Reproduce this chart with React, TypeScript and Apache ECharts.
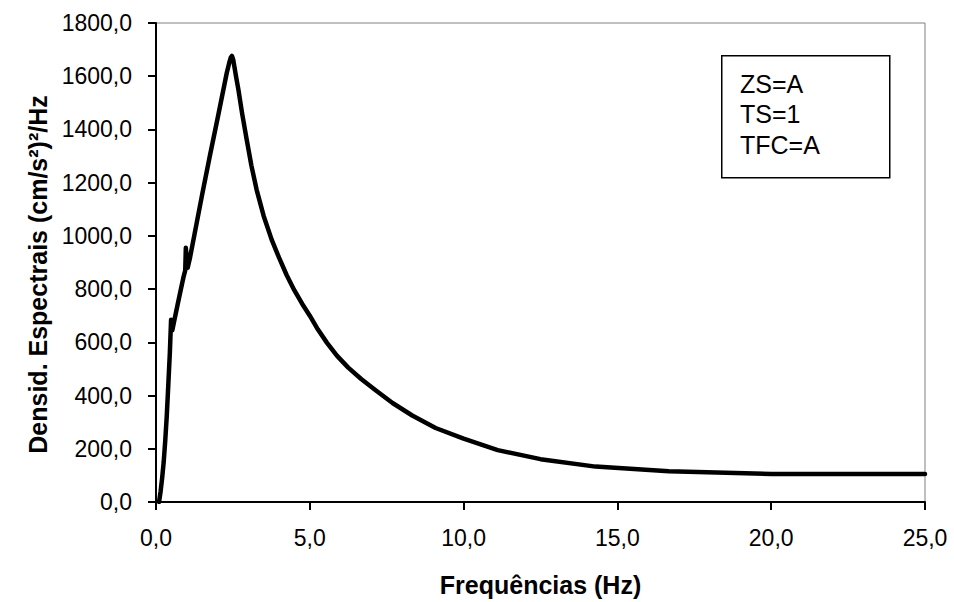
import React, { useEffect, useRef } from "react";
import * as echarts from "echarts";

const freqHz = [
  0.1, 0.15, 0.2, 0.25, 0.3, 0.35, 0.4, 0.45, 0.49, 0.53, 0.6, 0.7, 0.8, 0.9, 0.95,
  0.97, 1.03, 1.1, 1.25, 1.5, 1.75, 2.0, 2.2, 2.3, 2.38, 2.43, 2.47, 2.51, 2.55,
  2.6, 2.68, 2.8, 2.95, 3.1, 3.27, 3.5, 3.76, 4.0, 4.25, 4.5, 4.75, 5.0, 5.26,
  5.56, 5.88, 6.25, 6.67, 7.14, 7.69, 8.33, 9.09, 10.0, 11.11, 12.5, 14.29,
  16.67, 20.0, 25.0,
];
const density = [
  0, 40, 90, 150, 230, 324, 440, 560, 685, 645, 685, 740, 795, 848, 870,
  955, 880, 915, 1005, 1155, 1300, 1440, 1555, 1612, 1650, 1670, 1676, 1662, 1635,
  1600, 1549, 1460, 1361, 1265, 1174, 1075, 986, 918, 852, 795, 745, 700, 649,
  598, 550, 505, 462, 420, 372, 325, 278, 238, 195, 161, 133,
  116, 105, 105,
];
const xTicks = { min: 0, max: 25, interval: 5 };
const yTicks = { min: 0, max: 1800, interval: 200 };
const legendLines = ["ZS=A", "TS=1", "TFC=A"];
const xTitle = "Frequências (Hz)";
const yTitle = "Densid. Espectrais (cm/s²)²/Hz";

const FONT = "'Liberation Sans', Arial, sans-serif";
const fmt = (v: number) => v.toFixed(1).replace(".", ",");

export default function App() {
  const ref = useRef<HTMLDivElement>(null);
  useEffect(() => {
    if (!ref.current) return;
    const chart = echarts.init(ref.current, undefined, { renderer: "svg" });
    const data = freqHz.map((f, i) => [f, density[i]]);
    chart.setOption({
      animation: false,
      backgroundColor: "#ffffff",
      textStyle: { fontFamily: FONT },
      grid: {
        left: 156,
        right: 29,
        top: 23,
        bottom: 99,
        show: true,
        borderColor: "#808080",
        borderWidth: 1,
        backgroundColor: "transparent",
      },
      xAxis: {
        type: "value",
        ...xTicks,
        name: xTitle,
        nameLocation: "middle",
        nameGap: 70,
        nameTextStyle: { fontFamily: FONT, fontSize: 25, fontWeight: "bold", color: "#000" },
        axisLine: { show: true, onZero: false, lineStyle: { color: "#000", width: 2 } },
        axisTick: { show: true, inside: false, length: 8, lineStyle: { color: "#000", width: 2 } },
        axisLabel: { formatter: fmt, fontFamily: FONT, fontSize: 23, color: "#000", margin: 24 },
        splitLine: { show: false },
      },
      yAxis: {
        type: "value",
        ...yTicks,
        name: yTitle,
        nameLocation: "middle",
        nameRotate: 90,
        nameGap: 106,
        nameTextStyle: {
          fontFamily: FONT,
          fontSize: 25,
          fontWeight: "bold",
          color: "#000",
          padding: [0, 24, 0, 0],
        },
        axisLine: { show: true, onZero: false, lineStyle: { color: "#000", width: 2 } },
        axisTick: { show: true, inside: false, length: 8, lineStyle: { color: "#000", width: 2 } },
        axisLabel: { formatter: fmt, fontFamily: FONT, fontSize: 23, color: "#000", margin: 24 },
        splitLine: { show: false },
      },
      series: [
        {
          type: "line",
          data,
          showSymbol: false,
          symbol: "none",
          smooth: false,
          lineStyle: { color: "#000", width: 4.5, join: "round", cap: "round" },
        },
      ],
      graphic: [
        {
          type: "rect",
          left: 721,
          top: 55,
          shape: { width: 168, height: 122 },
          style: { fill: "#fff", stroke: "#000", lineWidth: 1.5 },
          z: 10,
        },
        ...legendLines.map((t, i) => ({
          type: "text",
          left: 740,
          top: 71 + i * 30.5,
          style: { text: t, fontFamily: FONT, fontSize: 25, fill: "#000" },
          z: 11,
        })),
      ],
    });
    return () => chart.dispose();
  }, []);
  return (
    <div
      ref={ref}
      style={{ position: "fixed", left: 0, top: 0, width: 954, height: 602 }}
    />
  );
}
